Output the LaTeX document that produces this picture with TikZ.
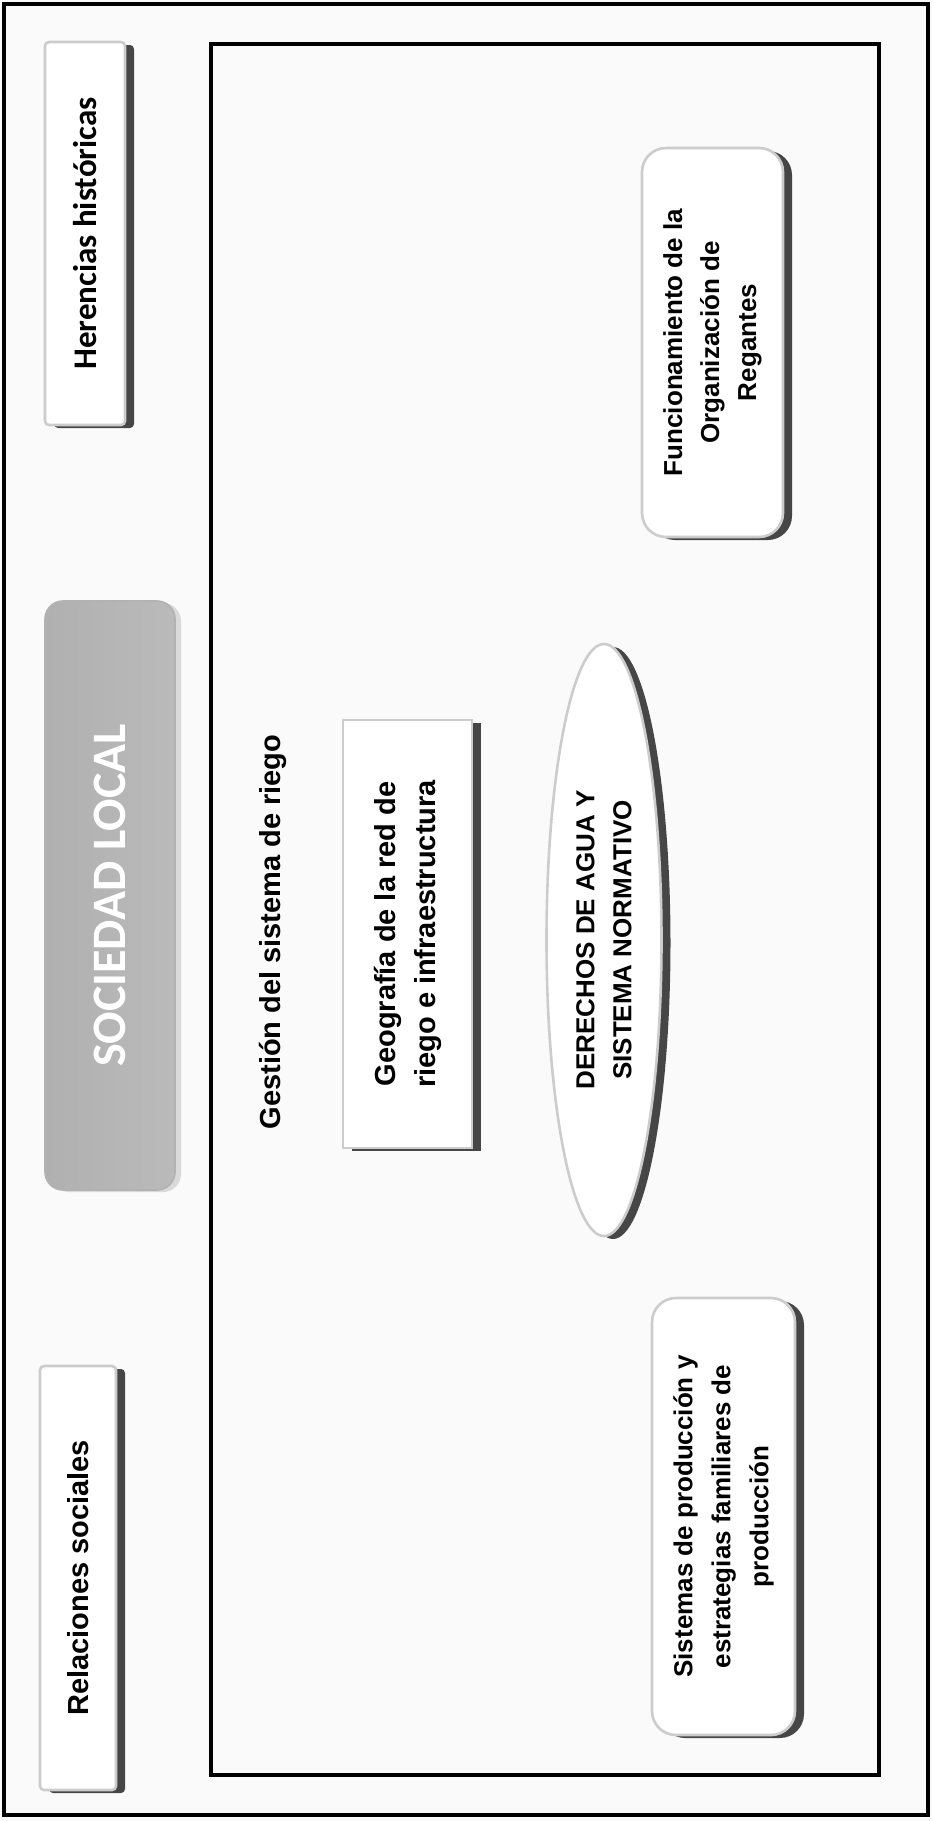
\documentclass[tikz,border=0pt]{standalone}
\usepackage{fontspec}
\setmainfont{Liberation Sans}
\newfontfamily\calib{Carlito}
\usetikzlibrary{shapes.geometric,shadows}
\begin{document}
\begin{tikzpicture}[x=0.5pt,y=-0.5pt,
  shad/.style={drop shadow={shadow xshift=4.5pt,shadow yshift=-1.5pt,fill=black!80,opacity=0.9}},
  lbl/.style={font=\bfseries\fontsize{13}{18.5}\selectfont,align=center,text=black},
  plainbox/.style={shad,rectangle,draw=gray!40,line width=1.3pt,fill=white,rotate=90,inner sep=0pt},
  roundbox/.style={plainbox,rounded corners=12pt},
  frame/.style={draw=black,line width=1.8pt}]
\useasboundingbox (0,0) rectangle (932,1821);
\fill[gray!4] (0,0) rectangle (932,1821);
\draw[frame] (4,4) rectangle (928,1815);
\draw[frame] (211,44) rectangle (879,1775);
\node[plainbox,rounded corners=2pt,minimum width=191.5pt,minimum height=40pt] (her) at (85,233.5) {};
\node[rotate=90,font=\calib\bfseries\fontsize{16.5}{19}\selectfont] at (her) {Herencias históricas};
\node[drop shadow={shadow xshift=3pt,shadow yshift=-1pt,fill=gray!35,opacity=0.8},
  rotate=90,rounded corners=9pt,draw=gray!60,line width=0.8pt,
  left color=gray!62,right color=gray!54,minimum width=294.5pt,minimum height=65pt] (soc) at (110,895.5) {};
\node[rotate=90,text=white,font=\calib\bfseries\fontsize{24}{28}\selectfont] at (soc) {SOCIEDAD LOCAL};
\node[plainbox,rounded corners=2pt,minimum width=212pt,minimum height=38pt] (rel) at (78,1578) {};
\node[lbl,rotate=90,font=\bfseries\fontsize{14.5}{17}\selectfont] at (rel) {Relaciones sociales};
\node[lbl,rotate=90,font=\bfseries\fontsize{14.5}{18}\selectfont] (ges) at (272.5,932) {Gestión del sistema de riego};
\node[plainbox,minimum width=214pt,minimum height=64.5pt] (geo) at (407.5,934) {};
\node[lbl,rotate=90,font=\bfseries\fontsize{14.5}{20}\selectfont] at (geo) {Geografía de la red de\\riego e infraestructura};
\node[shad,ellipse,draw=gray!40,line width=1.3pt,fill=white,rotate=90,inner sep=0pt,
  minimum width=296pt,minimum height=57.5pt] (der) at (604,940) {};
\node[lbl,rotate=90] at (der) {DERECHOS DE AGUA Y\\SISTEMA NORMATIVO};
\node[roundbox,minimum width=194.5pt,minimum height=70.5pt] (fun) at (712.5,342.5) {};
\node[lbl,rotate=90] at (fun) {Funcionamiento de la\\Organización de\\Regantes};
\node[roundbox,minimum width=218.5pt,minimum height=71.5pt] (sis) at (723.5,1516.5) {};
\node[lbl,rotate=90,font=\bfseries\fontsize{13}{19}\selectfont] at (sis) {Sistemas de producción y\\estrategias familiares de\\producción};
\end{tikzpicture}
\end{document}
